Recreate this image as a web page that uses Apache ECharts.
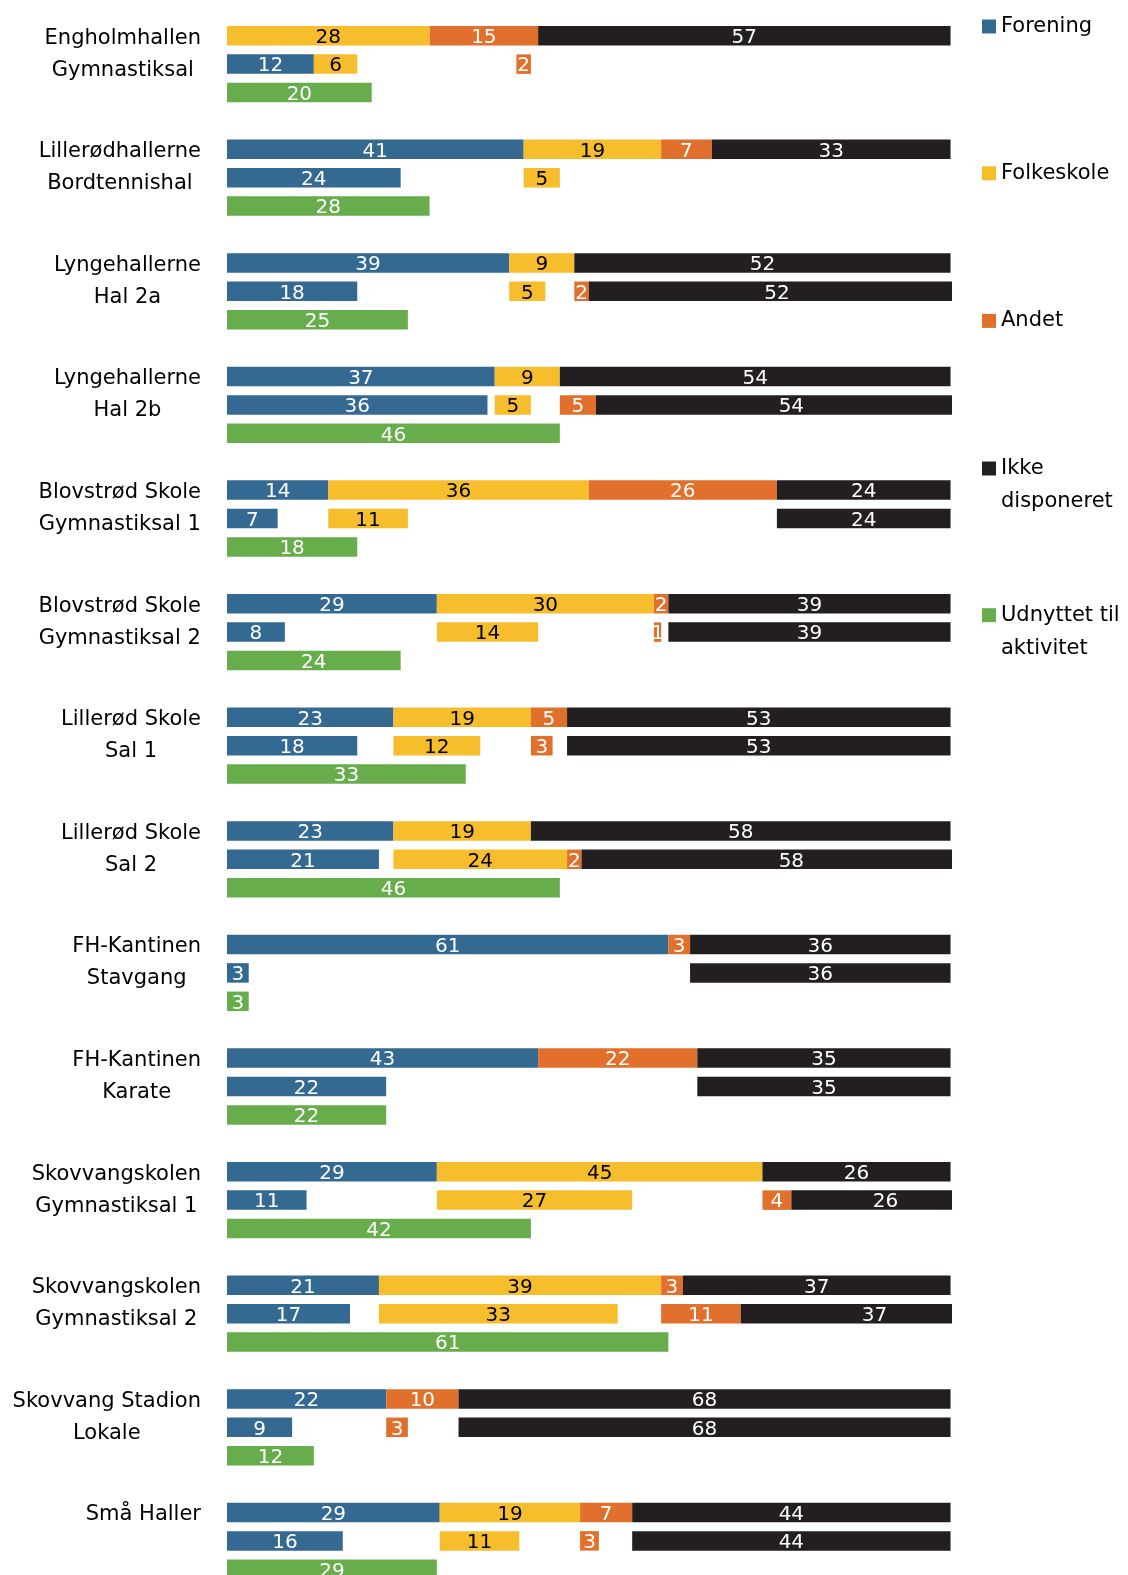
<!DOCTYPE html>
<html><head><meta charset="utf-8">
<script src="https://cdn.jsdelivr.net/npm/echarts@6/dist/echarts.min.js"></script>
<style>html,body{margin:0;padding:0;background:#fff}#c{width:1128px;height:1575px}</style>
</head><body><div id="c"></div>
<script>
// ---------- DATA ----------
const halls = [
  'Engholmhallen\nGymnastiksal', 'Lillerødhallerne\nBordtennishal', 'Lyngehallerne\nHal 2a',
  'Lyngehallerne\nHal 2b', 'Blovstrød Skole\nGymnastiksal 1', 'Blovstrød Skole\nGymnastiksal 2',
  'Lillerød Skole\nSal 1', 'Lillerød Skole\nSal 2', 'FH-Kantinen\nStavgang', 'FH-Kantinen\nKarate',
  'Skovvangskolen\nGymnastiksal 1', 'Skovvangskolen\nGymnastiksal 2', 'Skovvang Stadion\nLokale', 'Små Haller'
];
// Row 1: fordeling (allocation)
const forening   = [0, 41, 39, 37, 14, 29, 23, 23, 61, 43, 29, 21, 22, 29.4];
const folkeskole = [28, 19, 9, 9, 36, 30, 19, 19, 0, 0, 45, 39, 0, 19.4];
const andet      = [15, 7, 0, 0, 26, 2, 5, 0, 3, 22, 0, 3, 10, 7.2];
const ikkeDisp   = [57, 33, 52, 54, 24, 39, 53, 58, 36, 35, 26, 37, 68, 44];
// Row 2: brugt (used)
const foreningBrugt   = [12, 24, 18, 36, 7, 8, 18, 21, 3, 22, 11, 17, 9, 16];
const folkeskoleBrugt = [6, 5, 5, 5, 11, 14, 12, 24, 0, 0, 27, 33, 0, 11];
const andetBrugt      = [2, 0, 2, 5, 0, 1, 3, 2, 0, 0, 4, 11, 3, 2.6];
const ikkeBrugt       = [0, 0, 52, 54, 24, 39, 53, 58, 36, 35, 26, 37, 68, 44];
// Row 3: udnyttet til aktivitet
const udnyttet = [20, 28, 25, 46, 18, 24, 33, 46, 3, 22, 42, 61, 12, 29];

// ---------- BUILD ----------
const FONT = 'DejaVu Sans';
const C = { forening: '#346a91', folkeskole: '#f6bd2c', andet: '#e0702b', ikke: '#231f20', udnyttet: '#67ad4c' };
const N = halls.length;
const SLOTS = N * 4 - 1;
const categories = [];
for (let g = 0; g < N; g++) {
  categories.push(halls[g], 'r2_' + g, 'r3_' + g);
  if (g < N - 1) categories.push('sp_' + g);
}
function rowData(values, row, keepZero) {
  const arr = new Array(SLOTS).fill('-');
  values.forEach((v, g) => { arr[g * 4 + row] = (v === 0 && !keepZero) ? '-' : v; });
  return arr;
}
const gapF = forening.map((a, i) => Math.max(0, a - foreningBrugt[i]));
const gapS = folkeskole.map((a, i) => Math.max(0, a - folkeskoleBrugt[i]));
const gapA = andet.map((a, i) => Math.max(0, a - andetBrugt[i]));

const BW = 19.5;
function bar(name, data, color, labelColor, extra) {
  return Object.assign({
    type: 'bar', name: name, stack: 'all', data: data, barWidth: BW,
    itemStyle: { color: color },
    label: { show: true, position: 'inside', color: labelColor, fontFamily: FONT, fontSize: 20,
      textBorderWidth: 0, offset: [0, 2], formatter: p => String(Math.round(p.value)) },
    emphasis: { disabled: true }, silent: true
  }, extra || {});
}
function spacer(data) {
  return { type: 'bar', name: '_gap', stack: 'all', data: data, barWidth: BW,
    itemStyle: { color: 'rgba(0,0,0,0)' }, label: { show: false }, emphasis: { disabled: true }, silent: true };
}

const chart = echarts.init(document.getElementById('c'), null, { renderer: 'canvas' });

const series = [
  bar('Forening', rowData(forening, 0), C.forening, '#fff'),
  bar('Folkeskole', rowData(folkeskole, 0), C.folkeskole, '#000'),
  bar('Andet', rowData(andet, 0), C.andet, '#fff'),
  bar('Ikke disponeret', rowData(ikkeDisp, 0), C.ikke, '#fff'),
  bar('Forening', rowData(foreningBrugt, 1), C.forening, '#fff'),
  spacer(rowData(gapF, 1, true)),
  bar('Folkeskole', rowData(folkeskoleBrugt, 1), C.folkeskole, '#000'),
  spacer(rowData(gapS, 1, true)),
  bar('Andet', rowData(andetBrugt, 1), C.andet, '#fff'),
  spacer(rowData(gapA, 1, true)),
  bar('Ikke disponeret', rowData(ikkeBrugt, 1), C.ikke, '#fff', {
    labelLayout: function (p) {
      const r = p.rect;
      const g = Math.round((p.dataIndex - 1) / 4);
      const v = ikkeBrugt[g];
      let full = r.width;
      try {
        full = chart.convertToPixel({ xAxisIndex: 0 }, v) - chart.convertToPixel({ xAxisIndex: 0 }, 0);
      } catch (e) {}
      return { x: r.x + full / 2, y: r.y + r.height / 2 + 2, align: 'center', verticalAlign: 'middle' };
    }
  }),
  bar('Udnyttet til aktivitet', rowData(udnyttet, 2), C.udnyttet, '#fff')
];

const legendText = { fontFamily: FONT, fontSize: 21, color: '#000', lineHeight: 33 };
function legendItem(name, text, top) {
  return { data: [name], left: 982, top: top, orient: 'vertical', padding: 0,
    itemWidth: 14, itemHeight: 14, icon: 'rect', selectedMode: false,
    formatter: () => text, textStyle: legendText };
}

chart.setOption({
  animation: false,
  backgroundColor: '#fff',
  grid: { left: 227, top: 21.5, width: 725, height: 1562, containLabel: false, outerBoundsMode: 'none' },
  xAxis: { type: 'value', min: 0, max: 100.2, show: false },
  yAxis: {
    type: 'category', inverse: true, data: categories,
    axisLine: { show: false }, axisTick: { show: false }, splitLine: { show: false },
    axisLabel: {
      interval: 0, margin: 26, align: 'right', verticalAlign: 'middle',
      fontFamily: FONT, fontSize: 21, lineHeight: 32, color: '#000', padding: [5, 0, 0, 0],
      formatter: function (value, index) {
        if (index % 4 !== 0) return '';
        const parts = halls[index / 4].split('\n');
        if (parts.length === 1) return '{c|' + parts[0] + '}';
        return '{c| }\n{c|' + parts[0] + '}\n{c|' + parts[1] + '}';
      },
      rich: { c: { align: 'center', fontFamily: FONT, fontSize: 21, lineHeight: 32, color: '#000' } }
    }
  },
  legend: [
    legendItem('Forening', 'Forening', 10),
    legendItem('Folkeskole', 'Folkeskole', 156.8),
    legendItem('Andet', 'Andet', 304.4),
    legendItem('Ikke disponeret', ' \nIkke\ndisponeret', 419),
    legendItem('Udnyttet til aktivitet', ' \nUdnyttet til\naktivitet', 565.7)
  ],
  series: series
});
</script>
</body></html>
